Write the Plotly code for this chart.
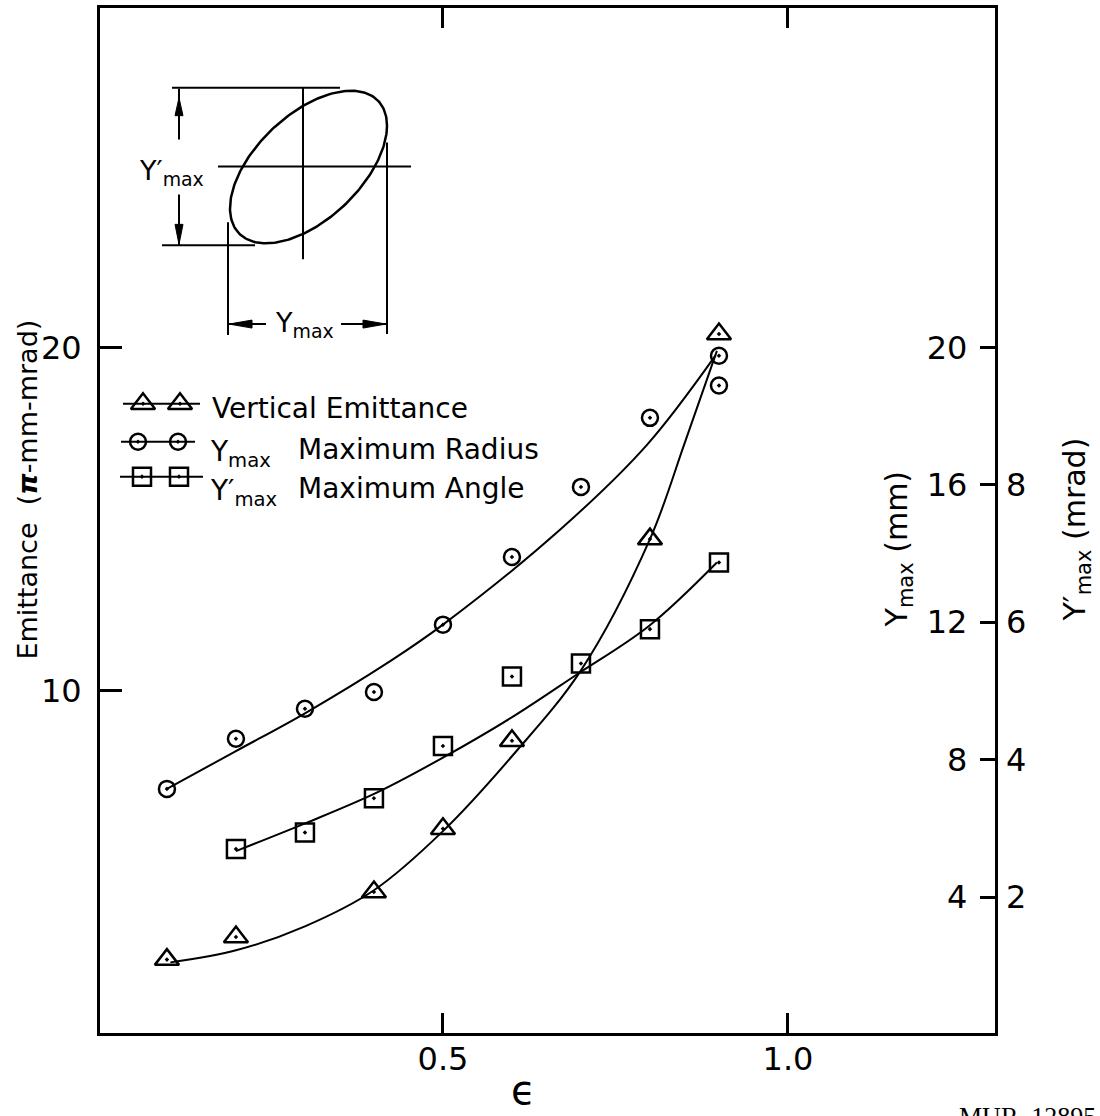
import numpy as np
import plotly.graph_objects as go

W, H = 1100, 1116
ML, MR, MT, MB = 100, 105, 5, 83          # plot box: x 100..995, y 5..1033
FONT = "DejaVu Sans"

# ---------------- measured values ----------------
eps_vert = [0.1, 0.2, 0.4, 0.5, 0.6, 0.8, 0.9]
emit_vert = [2.18, 2.84, 4.15, 5.99, 8.55, 14.42, 20.39]          # pi-mm-mrad

eps_radius = [0.1, 0.2, 0.3, 0.4, 0.5, 0.6, 0.7, 0.8, 0.9, 0.9]
radius_mm = [7.15, 8.61, 9.48, 9.97, 11.93, 13.9, 15.94, 17.95, 19.76, 18.89]

eps_angle = [0.2, 0.3, 0.4, 0.5, 0.6, 0.7, 0.8, 0.9]
angle_mrad = [2.70, 2.94, 3.44, 4.20, 5.21, 5.40, 5.90, 6.87]

# hand-drawn smooth curves through each set
vert_curve_eps = [0.105, 0.2, 0.3, 0.4, 0.5, 0.6, 0.7, 0.8, 0.85, 0.897]
vert_curve = [2.1, 2.45, 3.15, 4.2, 5.92, 8.1, 10.6, 14.42, 17.2, 19.9]

radius_curve_eps = [0.1, 0.2, 0.3, 0.423, 0.5, 0.67, 0.795, 0.895]
radius_curve = [7.15, 8.25, 9.35, 10.86, 11.93, 14.7, 17.15, 19.77]

angle_curve_eps = [0.2, 0.302, 0.404, 0.5, 0.602, 0.694, 0.799, 0.897]
angle_curve = [2.67, 3.08, 3.52, 4.03, 4.63, 5.24, 5.95, 6.87]

# axes
eps_ticks = [0.5, 1.0]
eps_ticktext = ["0.5", "1.0"]
emit_ticks = [10, 20]
mm_ticks = [4, 8, 12, 16, 20]
mrad_ticks = [2, 4, 6, 8]
EPS_RANGE = [0.003, 1.3]
EMIT_RANGE = [0.044, 29.88]
MRAD_RANGE = [EMIT_RANGE[0] / 2, EMIT_RANGE[1] / 2]

# ---------------- helpers ----------------
PW, PH = W - ML - MR, H - MT - MB


def px(x):
    return (x - ML) / PW


def py(y):
    return (H - MB - y) / PH


fig = go.Figure()

LINE = dict(color="black", width=2)

# smooth curves
fig.add_trace(go.Scatter(x=vert_curve_eps, y=vert_curve, mode="lines",
                         line=dict(shape="spline", smoothing=1.0, **LINE),
                         xaxis="x", yaxis="y", showlegend=False, hoverinfo="skip"))
fig.add_trace(go.Scatter(x=radius_curve_eps, y=radius_curve, mode="lines",
                         line=dict(shape="spline", smoothing=1.0, **LINE),
                         xaxis="x", yaxis="y2", showlegend=False, hoverinfo="skip"))
fig.add_trace(go.Scatter(x=angle_curve_eps, y=angle_curve, mode="lines",
                         line=dict(shape="spline", smoothing=1.0, **LINE),
                         xaxis="x", yaxis="y3", showlegend=False, hoverinfo="skip"))

TRI = dict(symbol="triangle-up-open-dot", size=21, color="black", line=dict(width=2.5, color="black"))
CIR = dict(symbol="circle-open-dot", size=16, color="black", line=dict(width=2.5, color="black"))
SQU = dict(symbol="square-open-dot", size=18, color="black", line=dict(width=2.5, color="black"))

fig.add_trace(go.Scatter(x=eps_vert, y=emit_vert, mode="markers", marker=TRI,
                         name="Vertical Emittance", xaxis="x", yaxis="y", showlegend=False))
fig.add_trace(go.Scatter(x=eps_radius, y=radius_mm, mode="markers", marker=CIR,
                         name="Ymax Maximum Radius", xaxis="x", yaxis="y2", showlegend=False))
fig.add_trace(go.Scatter(x=eps_angle, y=angle_mrad, mode="markers", marker=SQU,
                         name="Y'max Maximum Angle", xaxis="x", yaxis="y3", showlegend=False))

# ---------------- key (drawn in the box's pixel frame) ----------------
key_rows = [
    (402, 123, 200, [143, 180], TRI),
    (440, 121, 195, [138, 178], CIR),
    (475, 120, 203, [142, 179], SQU),
]
for yk, x0, x1, xm, mk in key_rows:
    fig.add_trace(go.Scatter(x=[x0, x1], y=[yk, yk], mode="lines", line=LINE,
                             xaxis="x2", yaxis="y4", showlegend=False, hoverinfo="skip"))
    fig.add_trace(go.Scatter(x=xm, y=[yk, yk], mode="markers", marker=mk,
                             xaxis="x2", yaxis="y4", showlegend=False, hoverinfo="skip"))

# ---------------- phase-space ellipse sketch ----------------
t = np.linspace(0, 2 * np.pi, 240)
ell_x = 308.5 + 78.5 * np.cos(t)
ell_y = 164.5 - 76.5 * np.cos(t - 0.999)
fig.add_trace(go.Scatter(x=ell_x, y=ell_y, mode="lines", line=dict(color="black", width=2.5),
                         xaxis="x2", yaxis="y4", showlegend=False, hoverinfo="skip"))

sketch_lines = [
    (218, 164, 411, 164),   # horizontal axis
    (303, 85, 303, 257),    # vertical axis
    (172, 85, 340, 85),     # top extent
    (162, 243, 255, 243),   # bottom extent
    (179, 86, 179, 137),    # Y' dimension, upper part
    (179, 192, 179, 243),   # Y' dimension, lower part
    (228, 220, 228, 333),   # left extent
    (387, 140, 387, 332),   # right extent
    (228, 322, 266, 322),   # Y dimension, left part
    (341, 322, 387, 322),   # Y dimension, right part
]
shapes = []
for x0, y0, x1, y1 in sketch_lines:
    shapes.append(dict(type="line", xref="x2", yref="y4", x0=x0, y0=y0, x1=x1, y1=y1,
                       line=dict(color="black", width=2)))

arrowheads = [
    [(179, 95), (175, 113), (183, 113)],     # up
    [(179, 242), (175, 222), (183, 222)],    # down
    [(229, 322), (252, 318), (252, 326)],    # left
    [(386, 322), (363, 318), (363, 326)],    # right
]
for tri in arrowheads:
    path = "M {} {} L {} {} L {} {} Z".format(*[v for p in tri for v in p])
    shapes.append(dict(type="path", xref="x2", yref="y4", path=path,
                       fillcolor="black", line=dict(color="black", width=1)))

# ---------------- text ----------------
ann = []


def text(x, y, s, size, xanchor="center", yanchor="middle", angle=0, family=FONT):
    ann.append(dict(x=px(x), y=py(y), xref="paper", yref="paper", text=s, showarrow=False,
                    xanchor=xanchor, yanchor=yanchor, textangle=angle,
                    font=dict(family=family, size=size, color="black")))


# sketch labels
text(171, 170, "Y′<sub>max</sub>", 27)
text(304, 322, "Y<sub>max</sub>", 27)

# key labels
text(210, 407, "Vertical Emittance", 28, xanchor="left")
text(208, 452, "Y<sub>max</sub>", 28, xanchor="left")
text(296, 448, "Maximum Radius", 28, xanchor="left")
text(208, 491, "Y′<sub>max</sub>", 28, xanchor="left")
text(296, 487, "Maximum Angle", 28, xanchor="left")

# axis titles
text(28, 488, "Emittance\u00a0 (<b><i>π</i></b>-mm-mrad)", 27, angle=-90)
text(523, 1090, "ϵ", 40)
text(898, 548, "Y<sub>max</sub> (mm)", 30, angle=-90)
text(1076, 528, "Y′<sub>max</sub> (mrad)", 30, angle=-90)
text(1098, 1100, "MUR\u00a0 12895", 26, xanchor="right", yanchor="top", family="Liberation Serif")

AX = dict(showgrid=False, zeroline=False, color="black")
TICKFONT = dict(family=FONT, size=32, color="black")

fig.update_layout(
    width=W, height=H,
    margin=dict(l=ML, r=MR, t=MT, b=MB, pad=0),
    paper_bgcolor="white", plot_bgcolor="white",
    showlegend=False,
    annotations=ann,
    shapes=shapes,
    xaxis=dict(range=EPS_RANGE, tickvals=eps_ticks, ticktext=eps_ticktext,
               ticks="inside", ticklen=20, tickwidth=3, tickcolor="black",
               showline=True, linewidth=3, linecolor="black", mirror="ticks",
               tickfont=TICKFONT, ticklabelstandoff=-4, **AX),
    yaxis=dict(range=EMIT_RANGE, tickvals=emit_ticks,
               ticks="inside", ticklen=22, tickwidth=3, tickcolor="black",
               showline=True, linewidth=3, linecolor="black", mirror=True,
               tickfont=TICKFONT, ticklabelstandoff=9, **AX),
    yaxis2=dict(range=EMIT_RANGE, overlaying="y", side="right", anchor="x",
                tickvals=mm_ticks, ticks="inside", ticklen=15, tickwidth=3, tickcolor="black",
                ticklabelposition="inside", showline=False,
                tickfont=TICKFONT, ticklabelstandoff=16, **AX),
    yaxis3=dict(range=MRAD_RANGE, overlaying="y", side="right", anchor="x",
                tickvals=mrad_ticks, ticks="", showline=False,
                tickfont=TICKFONT, ticklabelstandoff=10, **AX),
    xaxis2=dict(range=[ML, W - MR], overlaying="x", anchor="y4", visible=False),
    yaxis4=dict(range=[H - MB, MT], overlaying="y", anchor="x2", visible=False),
)

fig.write_html("out.html")
